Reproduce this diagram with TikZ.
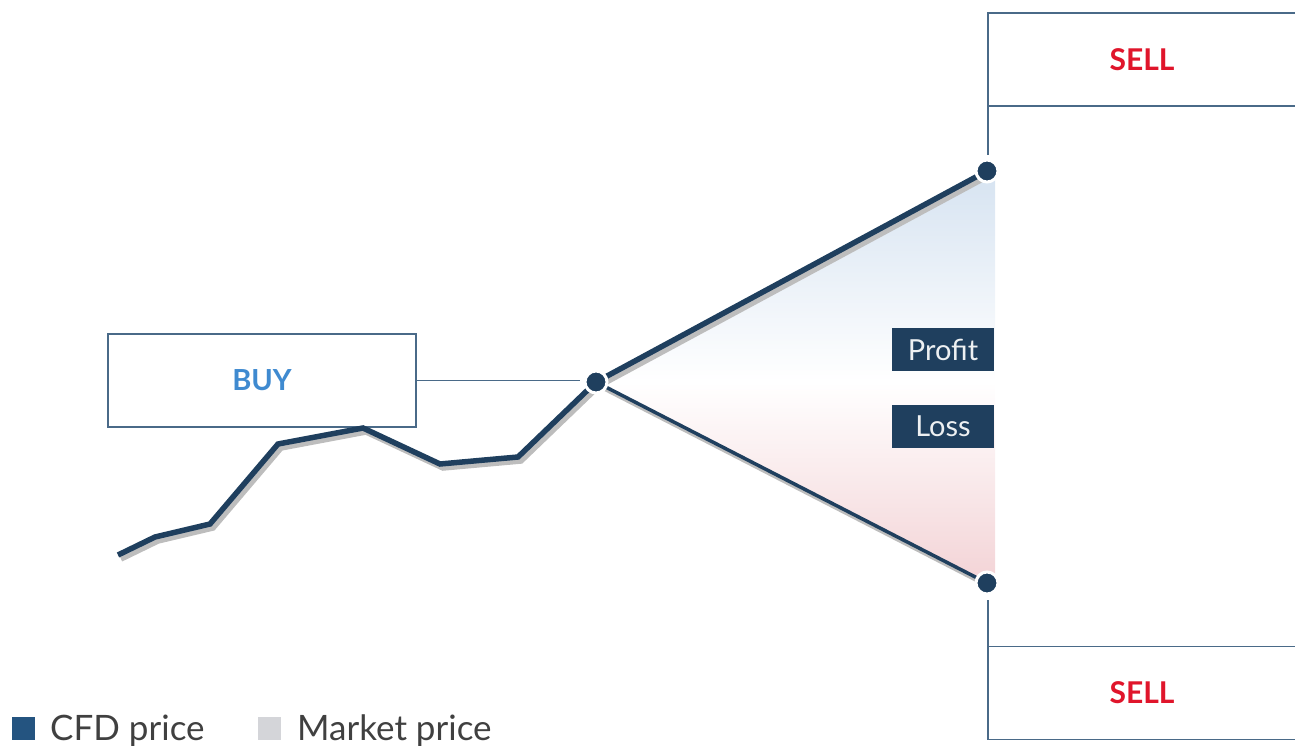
\documentclass[tikz,border=0pt]{standalone}
\usepackage{fontspec}
\setmainfont{Lato}
\definecolor{navy}{HTML}{1F3F5E}
\definecolor{legblue}{HTML}{245480}
\definecolor{leggray}{HTML}{D4D5D9}
\definecolor{sellred}{HTML}{E0152B}
\definecolor{buyblue}{HTML}{3F8AD0}
\definecolor{boxline}{HTML}{4A6A88}
\definecolor{shadowgray}{HTML}{BDBDBD}
\definecolor{profitblue}{HTML}{D6E3F1}
\definecolor{losspink}{HTML}{F3D3D6}
\begin{document}
\begin{tikzpicture}[x=1pt,y=-1pt,
  labelbox/.style={draw=boxline,line width=1.6pt,fill=white,minimum width=308pt,minimum height=93pt,inner sep=0pt,font=\fontsize{30}{32}\selectfont\bfseries},
  dot/.style={circle,fill=navy,draw=white,line width=3pt,minimum size=22pt,inner sep=0pt},
  tag/.style={fill=navy,text=white!92!navy,minimum width=102pt,minimum height=43pt,inner sep=0pt,font=\fontsize{29}{31}\selectfont},
  price/.style={draw=navy,line width=5.5pt,line join=miter},
  shadowline/.style={draw=shadowgray,line width=5.5pt,line join=miter},
  legsq/.style={minimum size=23pt,inner sep=0pt},
  legtext/.style={anchor=base west,inner sep=0pt,font=\fontsize{35}{37}\selectfont,text=black!75}
]
\useasboundingbox (0,0) rectangle (1295,746);
% fills
\shade[top color=profitblue,bottom color=white] (596,382) -- (987,171) -- (995,178) -- (995,382) -- cycle;
\shade[top color=white,bottom color=losspink] (596,382) -- (995,382) -- (995,577) -- (987,583) -- cycle;
% boxes
\node[labelbox,text=sellred] (sell1) at (1142,59.5) {SELL};
\node[labelbox,text=sellred] (sell2) at (1142,693) {SELL};
\node[labelbox,text=buyblue,font=\fontsize{29}{31}\selectfont\bfseries] (buy) at (262,380.5) {BUY};
% points
\coordinate (c) at (596,382);
\coordinate (t) at (987,171);
\coordinate (b) at (987,583);
% shadows
\draw[shadowline] (121,559) -- (158,541) -- (213,528) -- (281,448) -- (366,432) -- (443,468) -- (521,461) -- (599,386);
\draw[shadowgray,line width=5.5pt] (599,386) -- (990,175);
\draw[shadowgray,line width=4pt] (599,386) -- (990,587);
% price line
\draw[price] (118,555) -- (155,537) -- (210,524) -- (278,444) -- (363,428) -- (440,464) -- (518,457) -- (c);
\draw[navy,line width=5.5pt] (c) -- (t);
\draw[navy,line width=3.5pt] (c) -- (b);
% connectors
\coordinate (bend) at (580,380.5);
\coordinate (s1end) at (988,155);
\coordinate (s2end) at (988,600);
\draw[boxline,line width=1.8pt] (buy.east) -- (bend);
\draw[boxline,line width=1.8pt] (s1end |- sell1.south) -- (s1end);
\draw[boxline,line width=1.8pt] (s2end) -- (s2end |- sell2.north);
\node[dot] (dc) at (c) {};
\node[dot] (dt) at (t) {};
\node[dot] (db) at (b) {};
% tags
\node[tag] (profit) at (943,349.5) {Profit};
\node[tag] (loss) at (943,426) {Loss};
% legend
\node[legsq,fill=legblue] (lq1) at (23.5,728.5) {};
\node[legtext] (lt1) at (50,740) {CFD price};
\node[legsq,fill=leggray] (lq2) at (269.5,728.5) {};
\node[legtext] (lt2) at (297,740) {Market price};
\end{tikzpicture}
\end{document}
